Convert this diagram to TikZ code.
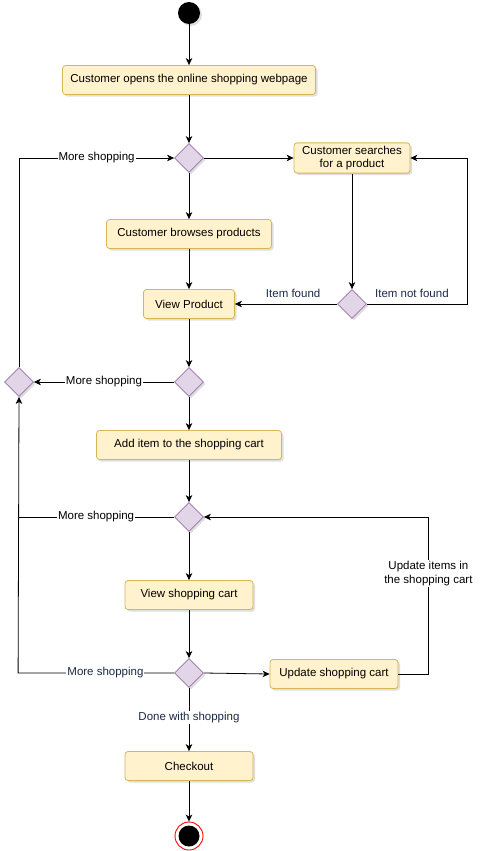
\documentclass[tikz,border=0pt]{standalone}
\usepackage{fontspec}
\setmainfont{Liberation Sans}
\usetikzlibrary{shapes.geometric, arrows.meta, shadows}

\definecolor{actfill}{HTML}{FFF2CC}
\definecolor{actline}{HTML}{D6B656}
\definecolor{decfill}{HTML}{E1D5E7}
\definecolor{decline}{HTML}{9673A6}
\definecolor{navy}{HTML}{1B2A47}

\tikzset{%
  % Specifications for style of nodes:
         shade/.style = { drop shadow={opacity=0.25, shadow xshift=2pt, shadow yshift=-2pt} },
         base/.style =  { rectangle, rounded corners=3pt, draw=actline, fill=actfill, line width=0.8pt, minimum height=29pt, inner sep=3pt, align=center, shade },
         choice/.style = { diamond, draw=decline, fill=decfill, line width=0.8pt, minimum width=29pt, minimum height=29pt, inner sep=0pt, shade },
         begin/.style = { circle, fill=black, minimum size=22pt, inner sep=0pt, shade },
         stop/.style =  { circle, draw=red, line width=0.9pt, fill=white, minimum size=28pt, inner sep=0pt,
                          path picture={\fill[black] (path picture bounding box.center) circle (10.5pt);} },
  % Specifications for style of connectors:
         arrow/.style = { draw=black, line width=0.8pt, -{Stealth[length=7pt, width=6.5pt, inset=2pt]} },
         line/.style =  { draw=black, line width=0.8pt },
         guard/.style = { fill=white, inner sep=1pt, align=center },
}

\begin{document}
\begin{tikzpicture}[x=1pt, y=-1pt, font=\fontsize{11.5}{13.5}\selectfont]
    \useasboundingbox (0,0) rectangle (481,851);

    % Draw nodes
    \node (start)     [begin]                        at (189,13)  {};
    \node (open_page) [base, minimum width=253pt]    at (189,80)  {Customer opens the online shopping webpage};
    \node (if_1)      [choice]                       at (189,158) {};
    \node (search)    [base, minimum width=116pt]    at (352,158) {Customer searches\\for a product};
    \node (browse)    [base, minimum width=165pt]    at (189,234) {Customer browses products};
    \node (view)      [base, minimum width=91pt]     at (189,304) {View Product};
    \node (if_2)      [choice]                       at (352,304) {};
    \node (if_3)      [choice]                       at (189,382) {};
    \node (if_back)   [choice]                       at (19,382)  {};
    \node (add)       [base, minimum width=185pt]    at (189,445) {Add item to the shopping cart};
    \node (if_4)      [choice]                       at (189,517) {};
    \node (cart)      [base, minimum width=128pt]    at (189,595) {View shopping cart};
    \node (if_5)      [choice]                       at (189,673) {};
    \node (update)    [base, minimum width=128pt]    at (334,674) {Update shopping cart};
    \node (checkout)  [base, minimum width=128pt]    at (189,766) {Checkout};
    \node (end)       [stop]                         at (189,836) {};

    % Draw arrows
    \draw[arrow]  (start) -- (open_page);
    \draw[arrow]  (open_page) -- (if_1);
    \draw[arrow]  (if_1) -- (browse);
    \draw[arrow]  (if_1.east) -- (search.west);
    \draw[arrow]  (search.south) -- (if_2.north);
    \draw[arrow]  (if_2.east) -- node[above=3pt, pos=0.45, text=navy] {Item not found} ++(100,0) |- (search.east);
    \draw[arrow]  (if_2.west) -- node[above=3pt, pos=0.43, text=navy] {Item found} (view.east);
    \draw[arrow]  (browse) -- (view);
    \draw[arrow]  (view) -- (if_3);
    \draw[arrow]  (if_3.west) -- node[guard] {More shopping} (if_back.east);
    \draw[arrow]  (if_back.north) |- node[guard, pos=0.75] {More shopping} (if_1.west);
    \draw[arrow]  (if_3) -- (add);
    \draw[arrow]  (add) -- (if_4);
    \draw[line]   (if_4.west) -- node[guard] {More shopping} ++(-156,0);
    \draw[arrow]  (if_4) -- (cart);
    \draw[arrow]  (cart) -- (if_5);
    \draw[arrow]  (if_5.west) -- node[guard, pos=0.44, text=navy] {More shopping} ++(-156,0) -- (if_back.south);
    \draw[arrow]  (if_5.east) -- (update.west);
    \draw[arrow]  (update.east) -- ++(30,0) |- node[guard, pos=0.32] {Update items in\\the shopping cart} (if_4.east);
    \draw[arrow]  (if_5) -- node[guard, pos=0.47, text=navy] {Done with shopping} (checkout);
    \draw[arrow]  (checkout) -- (end);
\end{tikzpicture}
\end{document}
